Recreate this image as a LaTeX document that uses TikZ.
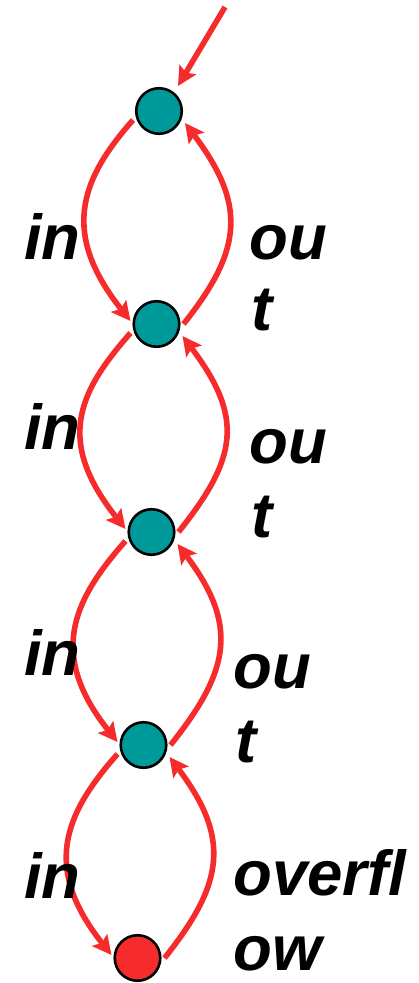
\documentclass[tikz,border=0pt]{standalone}
\usepackage{fontspec}
\setmainfont{Liberation Sans}[Ligatures=NoCommon]
\usetikzlibrary{arrows.meta,calc}
\definecolor{arcred}{RGB}{246,44,44}
\definecolor{stateteal}{RGB}{0,153,153}
\tikzset{
 state/.style={circle,draw=black,line width=2.6pt,fill=stateteal,minimum size=45.5pt,inner sep=0pt},
 sink/.style={state,fill=arcred},
 arc/.style={draw=arcred,line width=5.6pt,-{Stealth[length=19pt,width=19pt,inset=3.5pt]}},
 lbl/.style={anchor=base west,inner sep=0pt,font=\fontsize{63.5}{70}\selectfont\bfseries\itshape},
}
\newcommand\arcpair[2]{%
 \draw[arc] ($(#1)+(-26,9)$) .. controls ($(#1)+(-80,70)$) and ($(#2)+(-95,-90)$) .. ($(#2)+(-26,-3)$);
 \draw[arc] ($(#2)+(27,0)$) .. controls ($(#2)+(87,-75)$) and ($(#1)+(87,93)$) .. ($(#1)+(26,12)$);
}
\begin{document}
\begin{tikzpicture}[x=1pt,y=-1pt]
\useasboundingbox (0,0) rectangle (418,983);
\node[state] (N1) at (159,111) {};
\node[state] (N2) at (156.5,324) {};
\node[state] (N3) at (151.5,532) {};
\node[state] (N4) at (143.5,745) {};
\node[sink] (N5) at (137.5,958) {};
\coordinate (start) at (225,7);
\draw[arc] (start) -- ($(N1)+(19,-25)$);
\arcpair{N1}{N2}
\arcpair{N2}{N3}
\arcpair{N3}{N4}
\arcpair{N4}{N5}
\node[lbl] (in1) at (24,259) {in};
\node[lbl] (out1a) at (249,259) {ou};
\node[lbl] (out1b) at (251,330) {t};
\node[lbl] (in2) at (24,449) {in};
\node[lbl] (out2a) at (249,463) {ou};
\node[lbl] (out2b) at (251,537) {t};
\node[lbl] (in3) at (24,675) {in};
\node[lbl] (out3a) at (233,688) {ou};
\node[lbl] (out3b) at (235,762) {t};
\node[lbl] (in4) at (24,898) {in};
\node[lbl] (of4a) at (233,895) {overfl};
\node[lbl] (of4b) at (233,970) {ow};
\end{tikzpicture}
\end{document}
